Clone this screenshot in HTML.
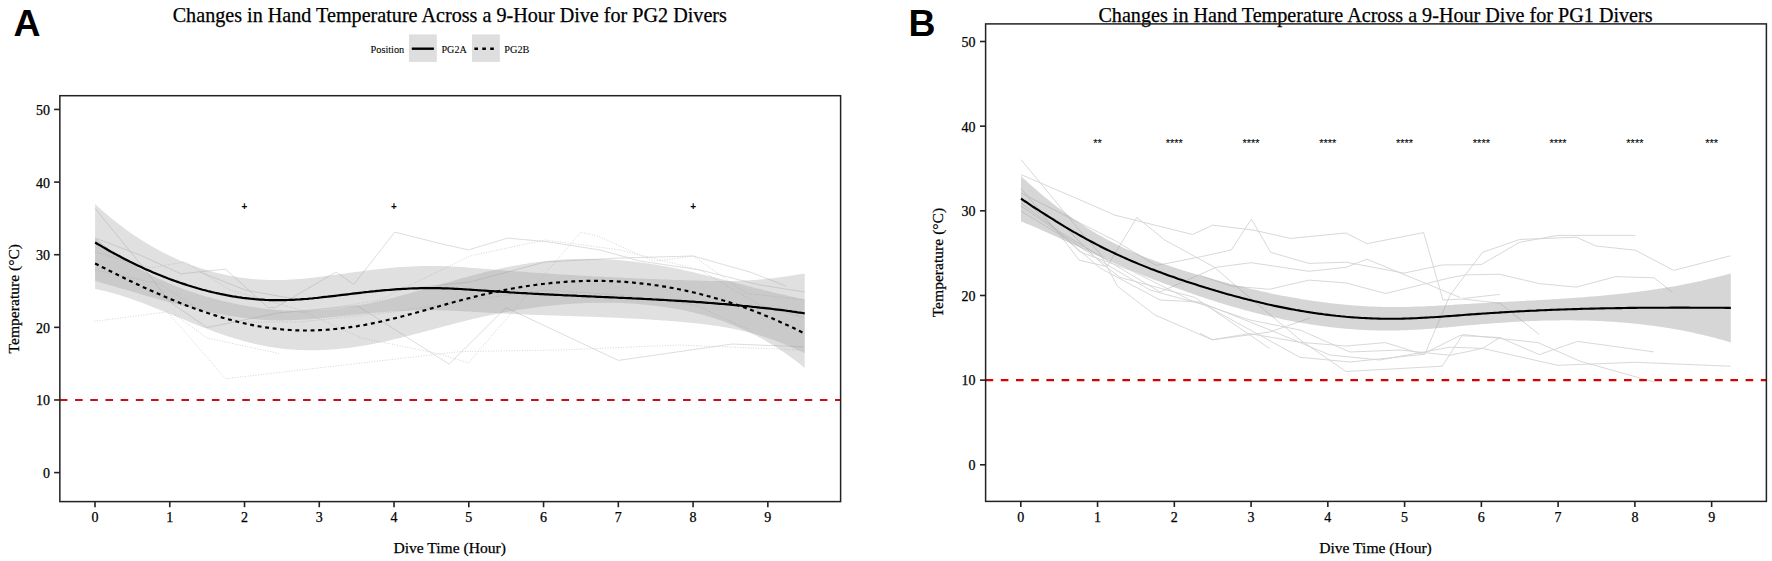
<!DOCTYPE html>
<html><head><meta charset="utf-8"><title>Hand temperature</title>
<style>html,body{margin:0;padding:0;background:#fff;}svg{display:block;}
text{font-family:'Liberation Serif','Times New Roman',serif;fill:#000;stroke:#000;stroke-width:0.25px;}</style></head><body>
<svg width="1772" height="561" viewBox="0 0 1772 561">
<rect width="1772" height="561" fill="#fff"/>
<text x="13.6" y="36" style="font-family:'Liberation Sans',Arial,sans-serif;font-weight:bold;font-size:37.4px;stroke-width:0">A</text>
<text x="908.4" y="36" style="font-family:'Liberation Sans',Arial,sans-serif;font-weight:bold;font-size:37.4px;stroke-width:0">B</text>
<text x="449.8" y="22.4" text-anchor="middle" font-size="20.15">Changes in Hand Temperature Across a 9-Hour Dive for PG2 Divers</text>
<text x="1375.5" y="22.3" text-anchor="middle" font-size="20.15">Changes in Hand Temperature Across a 9-Hour Dive for PG1 Divers</text>
<text x="370.5" y="52.6" font-size="10.3" style="stroke-width:0.08px">Position</text>
<rect x="409" y="34.4" width="27.8" height="27.5" fill="#dedede"/>
<line x1="411.8" y1="48.7" x2="433.9" y2="48.7" stroke="#000" stroke-width="2.4"/>
<text x="441.5" y="52.6" font-size="10.1" style="stroke-width:0.08px">PG2A</text>
<rect x="472" y="34.4" width="27.8" height="27.5" fill="#dedede"/>
<line x1="474.4" y1="48.7" x2="494.3" y2="48.7" stroke="#000" stroke-width="2.4" stroke-dasharray="3.6,4.3"/>
<text x="504.3" y="52.6" font-size="10.3" style="stroke-width:0.08px">PG2B</text>
<defs><clipPath id="ca"><rect x="59.9" y="95.7" width="780.8" height="405.9"/></clipPath><clipPath id="cb"><rect x="985.6" y="23.9" width="780.8" height="477.5"/></clipPath></defs>
<g clip-path="url(#ca)">
<g><path d="M95.1,208.5 L140.8,264.4 L170.0,302.0 L207.0,327.6 L278.0,313.0 L357.3,305.7 L449.2,364.1 L506.0,307.6 L618.3,360.4 L732.3,344.0 L803.6,346.9" fill="none" stroke="#d4d4d4" stroke-width="0.8"/><path d="M95.0,238.0 L140.0,255.0 L181.0,273.8 L225.5,269.1 L268.2,307.6 L275.4,307.6 L336.0,272.0 L353.8,284.5 L394.8,232.1 L440.0,243.5 L468.5,249.9 L507.7,238.1 L547.0,241.7 L600.0,250.0 L640.0,261.0 L700.0,270.0 L760.0,285.0 L805.0,292.0" fill="none" stroke="#d4d4d4" stroke-width="0.8"/><path d="M200.0,272.0 L245.0,290.0 L300.0,300.0 L394.0,290.0 L470.0,282.0 L545.0,262.0 L620.0,258.0 L693.0,256.0 L750.0,272.0 L786.0,286.0" fill="none" stroke="#d4d4d4" stroke-width="0.8"/><path d="M94.2,321.3 L167.3,311.9 L225.7,378.7 L460.0,351.6 L560.0,350.0 L680.0,345.0 L800.0,350.0" fill="none" stroke="#d0d0d0" stroke-width="0.9" stroke-dasharray="1,1.6"/><path d="M175.0,315.0 L207.0,338.0 L280.0,353.7" fill="none" stroke="#d0d0d0" stroke-width="0.9" stroke-dasharray="1,1.6"/><path d="M95.0,252.0 L151.0,267.8 L184.8,261.9 L230.0,290.0 L300.0,310.0 L361.5,338.0 L440.0,354.0 L468.5,362.9 L580.8,232.1 L598.6,236.3 L653.9,261.3 L693.1,256.0 L746.6,293.4 L805.0,300.0" fill="none" stroke="#d0d0d0" stroke-width="0.9" stroke-dasharray="1,1.6"/><path d="M95.0,270.0 L160.0,284.0 L200.0,310.0 L245.0,322.0 L300.0,322.0 L394.0,312.0 L470.0,300.0 L545.0,290.0 L620.0,295.0 L695.0,305.0 L750.0,330.0" fill="none" stroke="#d0d0d0" stroke-width="0.9" stroke-dasharray="1,1.6"/><path d="M300.0,313.0 L380.0,300.0 L470.0,256.0 L545.0,240.0 L620.0,250.0 L700.0,270.0 L760.0,305.0 L805.0,318.0" fill="none" stroke="#d0d0d0" stroke-width="0.9" stroke-dasharray="1,1.6"/></g>
<path d="M95.1,204.1 L97.6,206.4 L100.1,208.6 L102.6,210.8 L105.1,213.0 L107.6,215.1 L110.1,217.2 L112.6,219.3 L115.1,221.3 L117.6,223.2 L120.1,225.1 L122.6,227.0 L125.1,228.9 L127.6,230.7 L130.1,232.5 L132.6,234.2 L135.1,235.9 L137.6,237.6 L140.1,239.2 L142.6,240.8 L145.1,242.3 L147.6,243.8 L150.1,245.3 L152.6,246.8 L155.1,248.2 L157.6,249.6 L160.1,250.9 L162.6,252.2 L165.1,253.5 L167.6,254.7 L170.1,256.0 L172.6,257.1 L175.1,258.3 L177.6,259.4 L180.1,260.5 L182.6,261.5 L185.1,262.5 L187.6,263.5 L190.1,264.5 L192.6,265.4 L195.1,266.3 L197.6,267.2 L200.1,268.0 L202.6,268.8 L205.1,269.6 L207.6,270.3 L210.1,271.0 L212.6,271.7 L215.1,272.4 L217.6,273.0 L220.1,273.6 L222.6,274.2 L225.1,274.7 L227.6,275.3 L230.1,275.8 L232.6,276.2 L235.1,276.7 L237.6,277.1 L240.1,277.5 L242.6,277.8 L245.1,278.1 L247.6,278.4 L250.1,278.7 L252.6,279.0 L255.1,279.2 L257.6,279.4 L260.1,279.6 L262.6,279.7 L265.1,279.8 L267.6,279.9 L270.1,280.0 L272.6,280.0 L275.1,280.1 L277.6,280.0 L280.1,280.0 L282.6,280.0 L285.1,279.9 L287.6,279.8 L290.1,279.6 L292.6,279.5 L295.1,279.3 L297.6,279.1 L300.1,278.9 L302.6,278.7 L305.1,278.5 L307.6,278.2 L310.1,277.9 L312.6,277.7 L315.1,277.4 L317.6,277.1 L320.1,276.8 L322.6,276.5 L325.1,276.1 L327.6,275.8 L330.1,275.5 L332.6,275.1 L335.1,274.8 L337.6,274.4 L340.1,274.1 L342.6,273.8 L345.1,273.4 L347.6,273.1 L350.1,272.7 L352.6,272.4 L355.1,272.1 L357.6,271.7 L360.1,271.4 L362.6,271.1 L365.1,270.8 L367.6,270.5 L370.1,270.1 L372.6,269.8 L375.1,269.6 L377.6,269.3 L380.1,269.0 L382.6,268.7 L385.1,268.5 L387.6,268.2 L390.1,268.0 L392.6,267.8 L395.1,267.5 L397.6,267.3 L400.1,267.1 L402.6,267.0 L405.1,266.8 L407.6,266.7 L410.1,266.5 L412.6,266.4 L415.1,266.3 L417.6,266.2 L420.1,266.1 L422.6,266.1 L425.1,266.0 L427.6,266.0 L430.1,266.0 L432.6,266.0 L435.1,266.0 L437.6,266.0 L440.1,266.1 L442.6,266.1 L445.1,266.2 L447.6,266.3 L450.1,266.4 L452.6,266.5 L455.1,266.7 L457.6,266.8 L460.1,267.0 L462.6,267.1 L465.1,267.3 L467.6,267.5 L470.1,267.7 L472.6,267.9 L475.1,268.0 L477.6,268.3 L480.1,268.5 L482.6,268.7 L485.1,268.9 L487.6,269.1 L490.1,269.3 L492.6,269.5 L495.1,269.7 L497.6,269.9 L500.1,270.1 L502.6,270.3 L505.1,270.5 L507.6,270.7 L510.1,270.9 L512.6,271.1 L515.1,271.3 L517.6,271.5 L520.1,271.6 L522.6,271.8 L525.1,272.0 L527.6,272.2 L530.1,272.4 L532.6,272.5 L535.1,272.7 L537.6,272.9 L540.1,273.1 L542.6,273.2 L545.1,273.4 L547.6,273.6 L550.1,273.7 L552.6,273.9 L555.1,274.1 L557.6,274.2 L560.1,274.4 L562.6,274.5 L565.1,274.7 L567.6,274.8 L570.1,275.0 L572.6,275.1 L575.1,275.3 L577.6,275.4 L580.1,275.6 L582.6,275.7 L585.1,275.8 L587.6,276.0 L590.1,276.1 L592.6,276.3 L595.1,276.4 L597.6,276.5 L600.1,276.6 L602.6,276.8 L605.1,276.9 L607.6,277.0 L610.1,277.1 L612.6,277.3 L615.1,277.4 L617.6,277.5 L620.1,277.6 L622.6,277.7 L625.1,277.9 L627.6,278.0 L630.1,278.1 L632.6,278.2 L635.1,278.3 L637.6,278.4 L640.1,278.5 L642.6,278.6 L645.1,278.7 L647.6,278.8 L650.1,278.9 L652.6,279.0 L655.1,279.1 L657.6,279.2 L660.1,279.3 L662.6,279.4 L665.1,279.5 L667.6,279.6 L670.1,279.7 L672.6,279.8 L675.1,279.9 L677.6,280.0 L680.1,280.0 L682.6,280.1 L685.1,280.2 L687.6,280.3 L690.1,280.4 L692.6,280.5 L695.1,280.5 L697.6,280.6 L700.1,280.7 L702.6,280.8 L705.1,280.8 L707.6,280.9 L710.1,280.9 L712.6,281.0 L715.1,281.0 L717.6,281.0 L720.1,281.0 L722.6,281.0 L725.1,281.0 L727.6,281.0 L730.1,281.0 L732.6,280.9 L735.1,280.9 L737.6,280.8 L740.1,280.8 L742.6,280.7 L745.1,280.6 L747.6,280.4 L750.1,280.3 L752.6,280.1 L755.1,280.0 L757.6,279.8 L760.1,279.5 L762.6,279.3 L765.1,279.1 L767.6,278.8 L770.1,278.5 L772.6,278.2 L775.1,277.9 L777.6,277.6 L780.1,277.3 L782.6,276.9 L785.1,276.6 L787.6,276.2 L790.1,275.8 L792.6,275.4 L795.1,275.0 L797.6,274.6 L800.1,274.2 L802.6,273.8 L804.7,273.4 L804.7,353.2 L802.6,352.2 L800.1,351.0 L797.6,349.9 L795.1,348.8 L792.6,347.7 L790.1,346.6 L787.6,345.6 L785.1,344.5 L782.6,343.5 L780.1,342.5 L777.6,341.6 L775.1,340.6 L772.6,339.7 L770.1,338.8 L767.6,338.0 L765.1,337.2 L762.6,336.3 L760.1,335.6 L757.6,334.8 L755.1,334.1 L752.6,333.4 L750.1,332.7 L747.6,332.1 L745.1,331.4 L742.6,330.9 L740.1,330.3 L737.6,329.7 L735.1,329.2 L732.6,328.7 L730.1,328.2 L727.6,327.8 L725.1,327.3 L722.6,326.9 L720.1,326.5 L717.6,326.1 L715.1,325.7 L712.6,325.4 L710.1,325.0 L707.6,324.7 L705.1,324.4 L702.6,324.1 L700.1,323.8 L697.6,323.5 L695.1,323.2 L692.6,323.0 L690.1,322.7 L687.6,322.5 L685.1,322.2 L682.6,322.0 L680.1,321.8 L677.6,321.6 L675.1,321.4 L672.6,321.1 L670.1,320.9 L667.6,320.7 L665.1,320.6 L662.6,320.4 L660.1,320.2 L657.6,320.0 L655.1,319.9 L652.6,319.7 L650.1,319.5 L647.6,319.4 L645.1,319.2 L642.6,319.1 L640.1,318.9 L637.6,318.8 L635.1,318.7 L632.6,318.5 L630.1,318.4 L627.6,318.3 L625.1,318.2 L622.6,318.0 L620.1,317.9 L617.6,317.8 L615.1,317.7 L612.6,317.6 L610.1,317.5 L607.6,317.4 L605.1,317.3 L602.6,317.2 L600.1,317.1 L597.6,317.0 L595.1,316.9 L592.6,316.8 L590.1,316.7 L587.6,316.6 L585.1,316.6 L582.6,316.5 L580.1,316.4 L577.6,316.3 L575.1,316.2 L572.6,316.1 L570.1,316.1 L567.6,316.0 L565.1,315.9 L562.6,315.8 L560.1,315.7 L557.6,315.6 L555.1,315.6 L552.6,315.5 L550.1,315.4 L547.6,315.3 L545.1,315.2 L542.6,315.1 L540.1,315.0 L537.6,315.0 L535.1,314.9 L532.6,314.8 L530.1,314.7 L527.6,314.6 L525.1,314.5 L522.6,314.4 L520.1,314.3 L517.6,314.2 L515.1,314.1 L512.6,313.9 L510.1,313.8 L507.6,313.7 L505.1,313.6 L502.6,313.5 L500.1,313.3 L497.6,313.2 L495.1,313.1 L492.6,313.0 L490.1,312.8 L487.6,312.7 L485.1,312.5 L482.6,312.4 L480.1,312.2 L477.6,312.1 L475.1,311.9 L472.6,311.8 L470.1,311.6 L467.6,311.5 L465.1,311.4 L462.6,311.2 L460.1,311.1 L457.6,311.0 L455.1,310.9 L452.6,310.8 L450.1,310.7 L447.6,310.6 L445.1,310.5 L442.6,310.4 L440.1,310.4 L437.6,310.3 L435.1,310.3 L432.6,310.3 L430.1,310.3 L427.6,310.3 L425.1,310.3 L422.6,310.3 L420.1,310.3 L417.6,310.4 L415.1,310.4 L412.6,310.5 L410.1,310.6 L407.6,310.7 L405.1,310.8 L402.6,310.9 L400.1,311.0 L397.6,311.1 L395.1,311.3 L392.6,311.5 L390.1,311.6 L387.6,311.8 L385.1,312.0 L382.6,312.2 L380.1,312.4 L377.6,312.6 L375.1,312.8 L372.6,313.0 L370.1,313.2 L367.6,313.5 L365.1,313.7 L362.6,313.9 L360.1,314.2 L357.6,314.4 L355.1,314.7 L352.6,314.9 L350.1,315.2 L347.6,315.5 L345.1,315.7 L342.6,316.0 L340.1,316.2 L337.6,316.5 L335.1,316.8 L332.6,317.0 L330.1,317.3 L327.6,317.5 L325.1,317.8 L322.6,318.0 L320.1,318.2 L317.6,318.5 L315.1,318.7 L312.6,318.9 L310.1,319.1 L307.6,319.3 L305.1,319.5 L302.6,319.6 L300.1,319.8 L297.6,319.9 L295.1,320.0 L292.6,320.1 L290.1,320.2 L287.6,320.3 L285.1,320.3 L282.6,320.4 L280.1,320.4 L277.6,320.4 L275.1,320.3 L272.6,320.2 L270.1,320.2 L267.6,320.0 L265.1,319.9 L262.6,319.8 L260.1,319.6 L257.6,319.4 L255.1,319.2 L252.6,318.9 L250.1,318.7 L247.6,318.4 L245.1,318.1 L242.6,317.8 L240.1,317.4 L237.6,317.1 L235.1,316.7 L232.6,316.3 L230.1,315.9 L227.6,315.5 L225.1,315.0 L222.6,314.6 L220.1,314.1 L217.6,313.7 L215.1,313.2 L212.6,312.7 L210.1,312.1 L207.6,311.6 L205.1,311.1 L202.6,310.5 L200.1,309.9 L197.6,309.4 L195.1,308.8 L192.6,308.2 L190.1,307.6 L187.6,307.0 L185.1,306.4 L182.6,305.7 L180.1,305.1 L177.6,304.4 L175.1,303.8 L172.6,303.1 L170.1,302.4 L167.6,301.8 L165.1,301.1 L162.6,300.4 L160.1,299.7 L157.6,299.0 L155.1,298.3 L152.6,297.6 L150.1,296.9 L147.6,296.2 L145.1,295.4 L142.6,294.7 L140.1,294.0 L137.6,293.3 L135.1,292.5 L132.6,291.8 L130.1,291.1 L127.6,290.3 L125.1,289.6 L122.6,288.9 L120.1,288.1 L117.6,287.4 L115.1,286.6 L112.6,285.9 L110.1,285.2 L107.6,284.4 L105.1,283.7 L102.6,283.0 L100.1,282.2 L97.6,281.5 L95.1,280.8 Z" fill="#999" fill-opacity="0.3"/>
<path d="M95.1,238.0 L97.6,240.1 L100.1,242.1 L102.6,244.0 L105.1,245.9 L107.6,247.8 L110.1,249.7 L112.6,251.5 L115.1,253.3 L117.6,255.0 L120.1,256.7 L122.6,258.4 L125.1,260.0 L127.6,261.6 L130.1,263.2 L132.6,264.7 L135.1,266.2 L137.6,267.6 L140.1,269.1 L142.6,270.4 L145.1,271.8 L147.6,273.1 L150.1,274.4 L152.6,275.7 L155.1,277.0 L157.6,278.2 L160.1,279.3 L162.6,280.5 L165.1,281.6 L167.6,282.7 L170.1,283.8 L172.6,284.8 L175.1,285.9 L177.6,286.8 L180.1,287.8 L182.6,288.8 L185.1,289.7 L187.6,290.6 L190.1,291.4 L192.6,292.3 L195.1,293.1 L197.6,293.9 L200.1,294.7 L202.6,295.5 L205.1,296.2 L207.6,296.9 L210.1,297.6 L212.6,298.3 L215.1,299.0 L217.6,299.6 L220.1,300.3 L222.6,300.9 L225.1,301.5 L227.6,302.1 L230.1,302.6 L232.6,303.2 L235.1,303.7 L237.6,304.2 L240.1,304.7 L242.6,305.2 L245.1,305.7 L247.6,306.1 L250.1,306.5 L252.6,306.9 L255.1,307.3 L257.6,307.7 L260.1,308.1 L262.6,308.4 L265.1,308.7 L267.6,309.0 L270.1,309.3 L272.6,309.5 L275.1,309.7 L277.6,309.9 L280.1,310.1 L282.6,310.3 L285.1,310.4 L287.6,310.6 L290.1,310.6 L292.6,310.7 L295.1,310.8 L297.6,310.8 L300.1,310.8 L302.6,310.8 L305.1,310.8 L307.6,310.7 L310.1,310.6 L312.6,310.5 L315.1,310.4 L317.6,310.3 L320.1,310.1 L322.6,309.9 L325.1,309.8 L327.6,309.5 L330.1,309.3 L332.6,309.1 L335.1,308.8 L337.6,308.5 L340.1,308.2 L342.6,307.9 L345.1,307.5 L347.6,307.2 L350.1,306.8 L352.6,306.4 L355.1,306.0 L357.6,305.5 L360.1,305.1 L362.6,304.6 L365.1,304.2 L367.6,303.7 L370.1,303.2 L372.6,302.6 L375.1,302.1 L377.6,301.5 L380.1,301.0 L382.6,300.4 L385.1,299.8 L387.6,299.2 L390.1,298.6 L392.6,297.9 L395.1,297.3 L397.6,296.6 L400.1,296.0 L402.6,295.3 L405.1,294.6 L407.6,293.9 L410.1,293.3 L412.6,292.6 L415.1,291.8 L417.6,291.1 L420.1,290.4 L422.6,289.7 L425.1,289.0 L427.6,288.2 L430.1,287.5 L432.6,286.8 L435.1,286.1 L437.6,285.3 L440.1,284.6 L442.6,283.8 L445.1,283.1 L447.6,282.4 L450.1,281.7 L452.6,280.9 L455.1,280.2 L457.6,279.5 L460.1,278.8 L462.6,278.1 L465.1,277.4 L467.6,276.7 L470.1,276.0 L472.6,275.3 L475.1,274.7 L477.6,274.0 L480.1,273.4 L482.6,272.7 L485.1,272.1 L487.6,271.5 L490.1,270.9 L492.6,270.3 L495.1,269.7 L497.6,269.2 L500.1,268.6 L502.6,268.1 L505.1,267.6 L507.6,267.1 L510.1,266.6 L512.6,266.1 L515.1,265.6 L517.6,265.2 L520.1,264.7 L522.6,264.3 L525.1,263.9 L527.6,263.5 L530.1,263.1 L532.6,262.8 L535.1,262.4 L537.6,262.1 L540.1,261.8 L542.6,261.4 L545.1,261.2 L547.6,260.9 L550.1,260.6 L552.6,260.4 L555.1,260.2 L557.6,260.0 L560.1,259.8 L562.6,259.6 L565.1,259.5 L567.6,259.3 L570.1,259.2 L572.6,259.1 L575.1,259.0 L577.6,259.0 L580.1,258.9 L582.6,258.9 L585.1,258.9 L587.6,258.8 L590.1,258.9 L592.6,258.9 L595.1,258.9 L597.6,259.0 L600.1,259.1 L602.6,259.2 L605.1,259.3 L607.6,259.4 L610.1,259.5 L612.6,259.7 L615.1,259.8 L617.6,260.0 L620.1,260.2 L622.6,260.4 L625.1,260.7 L627.6,260.9 L630.1,261.2 L632.6,261.5 L635.1,261.7 L637.6,262.0 L640.1,262.4 L642.6,262.7 L645.1,263.0 L647.6,263.4 L650.1,263.8 L652.6,264.2 L655.1,264.6 L657.6,265.0 L660.1,265.4 L662.6,265.9 L665.1,266.3 L667.6,266.8 L670.1,267.3 L672.6,267.8 L675.1,268.3 L677.6,268.8 L680.1,269.3 L682.6,269.8 L685.1,270.4 L687.6,271.0 L690.1,271.5 L692.6,272.1 L695.1,272.7 L697.6,273.3 L700.1,273.9 L702.6,274.5 L705.1,275.1 L707.6,275.7 L710.1,276.3 L712.6,276.9 L715.1,277.6 L717.6,278.2 L720.1,278.8 L722.6,279.5 L725.1,280.1 L727.6,280.8 L730.1,281.4 L732.6,282.1 L735.1,282.7 L737.6,283.3 L740.1,284.0 L742.6,284.6 L745.1,285.3 L747.6,285.9 L750.1,286.6 L752.6,287.2 L755.1,287.9 L757.6,288.5 L760.1,289.1 L762.6,289.8 L765.1,290.4 L767.6,291.0 L770.1,291.6 L772.6,292.2 L775.1,292.8 L777.6,293.4 L780.1,294.0 L782.6,294.6 L785.1,295.1 L787.6,295.7 L790.1,296.3 L792.6,296.8 L795.1,297.3 L797.6,297.9 L800.1,298.4 L802.6,298.9 L804.7,299.3 L804.7,367.9 L802.6,366.2 L800.1,364.2 L797.6,362.2 L795.1,360.3 L792.6,358.5 L790.1,356.7 L787.6,354.9 L785.1,353.1 L782.6,351.4 L780.1,349.7 L777.6,348.1 L775.1,346.5 L772.6,345.0 L770.1,343.5 L767.6,342.0 L765.1,340.5 L762.6,339.1 L760.1,337.8 L757.6,336.4 L755.1,335.1 L752.6,333.9 L750.1,332.6 L747.6,331.4 L745.1,330.2 L742.6,329.1 L740.1,328.0 L737.6,326.9 L735.1,325.9 L732.6,324.9 L730.1,323.9 L727.6,322.9 L725.1,322.0 L722.6,321.1 L720.1,320.2 L717.6,319.4 L715.1,318.5 L712.6,317.8 L710.1,317.0 L707.6,316.2 L705.1,315.5 L702.6,314.8 L700.1,314.2 L697.6,313.5 L695.1,312.9 L692.6,312.3 L690.1,311.7 L687.6,311.2 L685.1,310.6 L682.6,310.1 L680.1,309.6 L677.6,309.2 L675.1,308.7 L672.6,308.3 L670.1,307.9 L667.6,307.5 L665.1,307.1 L662.6,306.7 L660.1,306.4 L657.6,306.1 L655.1,305.7 L652.6,305.4 L650.1,305.2 L647.6,304.9 L645.1,304.6 L642.6,304.4 L640.1,304.2 L637.6,304.0 L635.1,303.8 L632.6,303.6 L630.1,303.5 L627.6,303.3 L625.1,303.2 L622.6,303.1 L620.1,303.0 L617.6,302.9 L615.1,302.8 L612.6,302.8 L610.1,302.7 L607.6,302.7 L605.1,302.7 L602.6,302.7 L600.1,302.7 L597.6,302.7 L595.1,302.8 L592.6,302.8 L590.1,302.9 L587.6,303.0 L585.1,303.1 L582.6,303.2 L580.1,303.3 L577.6,303.4 L575.1,303.6 L572.6,303.7 L570.1,303.9 L567.6,304.1 L565.1,304.3 L562.6,304.5 L560.1,304.7 L557.6,304.9 L555.1,305.2 L552.6,305.4 L550.1,305.7 L547.6,306.0 L545.1,306.3 L542.6,306.6 L540.1,306.9 L537.6,307.2 L535.1,307.5 L532.6,307.9 L530.1,308.2 L527.6,308.6 L525.1,308.9 L522.6,309.3 L520.1,309.7 L517.6,310.1 L515.1,310.5 L512.6,311.0 L510.1,311.4 L507.6,311.8 L505.1,312.3 L502.6,312.8 L500.1,313.2 L497.6,313.7 L495.1,314.2 L492.6,314.7 L490.1,315.2 L487.6,315.8 L485.1,316.3 L482.6,316.8 L480.1,317.4 L477.6,318.0 L475.1,318.5 L472.6,319.1 L470.1,319.7 L467.6,320.3 L465.1,320.9 L462.6,321.6 L460.1,322.2 L457.6,322.8 L455.1,323.5 L452.6,324.1 L450.1,324.8 L447.6,325.4 L445.1,326.1 L442.6,326.7 L440.1,327.4 L437.6,328.1 L435.1,328.7 L432.6,329.4 L430.1,330.1 L427.6,330.8 L425.1,331.4 L422.6,332.1 L420.1,332.8 L417.6,333.4 L415.1,334.1 L412.6,334.7 L410.1,335.4 L407.6,336.0 L405.1,336.6 L402.6,337.3 L400.1,337.9 L397.6,338.5 L395.1,339.1 L392.6,339.7 L390.1,340.3 L387.6,340.9 L385.1,341.4 L382.6,342.0 L380.1,342.5 L377.6,343.0 L375.1,343.5 L372.6,344.0 L370.1,344.5 L367.6,344.9 L365.1,345.4 L362.6,345.8 L360.1,346.2 L357.6,346.6 L355.1,347.0 L352.6,347.3 L350.1,347.7 L347.6,348.0 L345.1,348.3 L342.6,348.5 L340.1,348.8 L337.6,349.0 L335.1,349.3 L332.6,349.5 L330.1,349.6 L327.6,349.8 L325.1,349.9 L322.6,350.0 L320.1,350.1 L317.6,350.2 L315.1,350.2 L312.6,350.3 L310.1,350.3 L307.6,350.2 L305.1,350.2 L302.6,350.1 L300.1,350.0 L297.6,349.9 L295.1,349.8 L292.6,349.6 L290.1,349.4 L287.6,349.2 L285.1,348.9 L282.6,348.7 L280.1,348.4 L277.6,348.0 L275.1,347.7 L272.6,347.3 L270.1,346.9 L267.6,346.5 L265.1,346.0 L262.6,345.5 L260.1,345.0 L257.6,344.5 L255.1,343.9 L252.6,343.3 L250.1,342.7 L247.6,342.1 L245.1,341.4 L242.6,340.8 L240.1,340.1 L237.6,339.3 L235.1,338.6 L232.6,337.8 L230.1,337.0 L227.6,336.2 L225.1,335.4 L222.6,334.6 L220.1,333.7 L217.6,332.8 L215.1,331.9 L212.6,331.0 L210.1,330.0 L207.6,329.1 L205.1,328.1 L202.6,327.2 L200.1,326.2 L197.6,325.2 L195.1,324.2 L192.6,323.2 L190.1,322.2 L187.6,321.2 L185.1,320.1 L182.6,319.1 L180.1,318.1 L177.6,317.1 L175.1,316.0 L172.6,315.0 L170.1,314.0 L167.6,312.9 L165.1,311.9 L162.6,310.9 L160.1,309.9 L157.6,308.9 L155.1,307.9 L152.6,306.9 L150.1,305.9 L147.6,305.0 L145.1,304.0 L142.6,303.1 L140.1,302.1 L137.6,301.2 L135.1,300.3 L132.6,299.4 L130.1,298.6 L127.6,297.7 L125.1,296.9 L122.6,296.1 L120.1,295.3 L117.6,294.6 L115.1,293.8 L112.6,293.1 L110.1,292.4 L107.6,291.8 L105.1,291.1 L102.6,290.5 L100.1,290.0 L97.6,289.4 L95.1,288.9 Z" fill="#999" fill-opacity="0.3"/>
<path d="M95.1,242.5 L97.6,244.0 L100.1,245.4 L102.6,246.9 L105.1,248.3 L107.6,249.8 L110.1,251.2 L112.6,252.6 L115.1,253.9 L117.6,255.3 L120.1,256.6 L122.6,257.9 L125.1,259.2 L127.6,260.5 L130.1,261.8 L132.6,263.0 L135.1,264.2 L137.6,265.4 L140.1,266.6 L142.6,267.7 L145.1,268.9 L147.6,270.0 L150.1,271.1 L152.6,272.2 L155.1,273.2 L157.6,274.3 L160.1,275.3 L162.6,276.3 L165.1,277.3 L167.6,278.3 L170.1,279.2 L172.6,280.1 L175.1,281.0 L177.6,281.9 L180.1,282.8 L182.6,283.6 L185.1,284.4 L187.6,285.3 L190.1,286.0 L192.6,286.8 L195.1,287.5 L197.6,288.3 L200.1,289.0 L202.6,289.7 L205.1,290.3 L207.6,291.0 L210.1,291.6 L212.6,292.2 L215.1,292.8 L217.6,293.3 L220.1,293.9 L222.6,294.4 L225.1,294.9 L227.6,295.4 L230.1,295.8 L232.6,296.3 L235.1,296.7 L237.6,297.1 L240.1,297.4 L242.6,297.8 L245.1,298.1 L247.6,298.4 L250.1,298.7 L252.6,298.9 L255.1,299.2 L257.6,299.4 L260.1,299.6 L262.6,299.7 L265.1,299.9 L267.6,300.0 L270.1,300.1 L272.6,300.1 L275.1,300.2 L277.6,300.2 L280.1,300.2 L282.6,300.2 L285.1,300.1 L287.6,300.0 L290.1,299.9 L292.6,299.8 L295.1,299.7 L297.6,299.5 L300.1,299.4 L302.6,299.2 L305.1,299.0 L307.6,298.8 L310.1,298.5 L312.6,298.3 L315.1,298.0 L317.6,297.8 L320.1,297.5 L322.6,297.2 L325.1,296.9 L327.6,296.7 L330.1,296.4 L332.6,296.1 L335.1,295.8 L337.6,295.5 L340.1,295.2 L342.6,294.9 L345.1,294.6 L347.6,294.3 L350.1,294.0 L352.6,293.7 L355.1,293.4 L357.6,293.1 L360.1,292.8 L362.6,292.5 L365.1,292.2 L367.6,292.0 L370.1,291.7 L372.6,291.4 L375.1,291.2 L377.6,290.9 L380.1,290.7 L382.6,290.4 L385.1,290.2 L387.6,290.0 L390.1,289.8 L392.6,289.6 L395.1,289.4 L397.6,289.2 L400.1,289.1 L402.6,288.9 L405.1,288.8 L407.6,288.7 L410.1,288.5 L412.6,288.4 L415.1,288.4 L417.6,288.3 L420.1,288.2 L422.6,288.2 L425.1,288.2 L427.6,288.1 L430.1,288.1 L432.6,288.1 L435.1,288.2 L437.6,288.2 L440.1,288.2 L442.6,288.3 L445.1,288.4 L447.6,288.4 L450.1,288.5 L452.6,288.6 L455.1,288.8 L457.6,288.9 L460.1,289.0 L462.6,289.2 L465.1,289.3 L467.6,289.5 L470.1,289.6 L472.6,289.8 L475.1,290.0 L477.6,290.2 L480.1,290.3 L482.6,290.5 L485.1,290.7 L487.6,290.9 L490.1,291.1 L492.6,291.2 L495.1,291.4 L497.6,291.6 L500.1,291.7 L502.6,291.9 L505.1,292.0 L507.6,292.2 L510.1,292.4 L512.6,292.5 L515.1,292.7 L517.6,292.8 L520.1,293.0 L522.6,293.1 L525.1,293.2 L527.6,293.4 L530.1,293.5 L532.6,293.7 L535.1,293.8 L537.6,293.9 L540.1,294.1 L542.6,294.2 L545.1,294.3 L547.6,294.4 L550.1,294.6 L552.6,294.7 L555.1,294.8 L557.6,294.9 L560.1,295.0 L562.6,295.2 L565.1,295.3 L567.6,295.4 L570.1,295.5 L572.6,295.6 L575.1,295.7 L577.6,295.9 L580.1,296.0 L582.6,296.1 L585.1,296.2 L587.6,296.3 L590.1,296.4 L592.6,296.5 L595.1,296.6 L597.6,296.8 L600.1,296.9 L602.6,297.0 L605.1,297.1 L607.6,297.2 L610.1,297.3 L612.6,297.4 L615.1,297.5 L617.6,297.7 L620.1,297.8 L622.6,297.9 L625.1,298.0 L627.6,298.1 L630.1,298.2 L632.6,298.4 L635.1,298.5 L637.6,298.6 L640.1,298.7 L642.6,298.8 L645.1,299.0 L647.6,299.1 L650.1,299.2 L652.6,299.4 L655.1,299.5 L657.6,299.6 L660.1,299.8 L662.6,299.9 L665.1,300.0 L667.6,300.2 L670.1,300.3 L672.6,300.5 L675.1,300.6 L677.6,300.8 L680.1,300.9 L682.6,301.1 L685.1,301.2 L687.6,301.4 L690.1,301.6 L692.6,301.7 L695.1,301.9 L697.6,302.1 L700.1,302.2 L702.6,302.4 L705.1,302.6 L707.6,302.8 L710.1,303.0 L712.6,303.2 L715.1,303.4 L717.6,303.6 L720.1,303.8 L722.6,304.0 L725.1,304.2 L727.6,304.4 L730.1,304.6 L732.6,304.8 L735.1,305.1 L737.6,305.3 L740.1,305.5 L742.6,305.8 L745.1,306.0 L747.6,306.2 L750.1,306.5 L752.6,306.8 L755.1,307.0 L757.6,307.3 L760.1,307.6 L762.6,307.8 L765.1,308.1 L767.6,308.4 L770.1,308.7 L772.6,309.0 L775.1,309.3 L777.6,309.6 L780.1,309.9 L782.6,310.2 L785.1,310.5 L787.6,310.9 L790.1,311.2 L792.6,311.6 L795.1,311.9 L797.6,312.3 L800.1,312.6 L802.6,313.0 L804.7,313.3" fill="none" stroke="#000" stroke-width="2.2"/>
<path d="M95.1,263.5 L97.6,264.7 L100.1,266.0 L102.6,267.3 L105.1,268.5 L107.6,269.8 L110.1,271.1 L112.6,272.3 L115.1,273.5 L117.6,274.8 L120.1,276.0 L122.6,277.2 L125.1,278.5 L127.6,279.7 L130.1,280.9 L132.6,282.1 L135.1,283.2 L137.6,284.4 L140.1,285.6 L142.6,286.8 L145.1,287.9 L147.6,289.1 L150.1,290.2 L152.6,291.3 L155.1,292.4 L157.6,293.5 L160.1,294.6 L162.6,295.7 L165.1,296.8 L167.6,297.8 L170.1,298.9 L172.6,299.9 L175.1,300.9 L177.6,301.9 L180.1,302.9 L182.6,303.9 L185.1,304.9 L187.6,305.9 L190.1,306.8 L192.6,307.7 L195.1,308.7 L197.6,309.6 L200.1,310.4 L202.6,311.3 L205.1,312.2 L207.6,313.0 L210.1,313.8 L212.6,314.7 L215.1,315.4 L217.6,316.2 L220.1,317.0 L222.6,317.7 L225.1,318.4 L227.6,319.1 L230.1,319.8 L232.6,320.5 L235.1,321.1 L237.6,321.8 L240.1,322.4 L242.6,323.0 L245.1,323.5 L247.6,324.1 L250.1,324.6 L252.6,325.1 L255.1,325.6 L257.6,326.1 L260.1,326.5 L262.6,326.9 L265.1,327.3 L267.6,327.7 L270.1,328.1 L272.6,328.4 L275.1,328.7 L277.6,329.0 L280.1,329.2 L282.6,329.5 L285.1,329.7 L287.6,329.9 L290.1,330.0 L292.6,330.2 L295.1,330.3 L297.6,330.4 L300.1,330.4 L302.6,330.5 L305.1,330.5 L307.6,330.5 L310.1,330.5 L312.6,330.4 L315.1,330.3 L317.6,330.2 L320.1,330.1 L322.6,330.0 L325.1,329.8 L327.6,329.7 L330.1,329.5 L332.6,329.3 L335.1,329.0 L337.6,328.8 L340.1,328.5 L342.6,328.2 L345.1,327.9 L347.6,327.6 L350.1,327.2 L352.6,326.8 L355.1,326.5 L357.6,326.1 L360.1,325.6 L362.6,325.2 L365.1,324.8 L367.6,324.3 L370.1,323.8 L372.6,323.3 L375.1,322.8 L377.6,322.3 L380.1,321.7 L382.6,321.2 L385.1,320.6 L387.6,320.0 L390.1,319.4 L392.6,318.8 L395.1,318.2 L397.6,317.6 L400.1,316.9 L402.6,316.3 L405.1,315.6 L407.6,315.0 L410.1,314.3 L412.6,313.6 L415.1,313.0 L417.6,312.3 L420.1,311.6 L422.6,310.9 L425.1,310.2 L427.6,309.5 L430.1,308.8 L432.6,308.1 L435.1,307.4 L437.6,306.7 L440.1,306.0 L442.6,305.3 L445.1,304.6 L447.6,303.9 L450.1,303.2 L452.6,302.5 L455.1,301.8 L457.6,301.2 L460.1,300.5 L462.6,299.8 L465.1,299.2 L467.6,298.5 L470.1,297.9 L472.6,297.2 L475.1,296.6 L477.6,296.0 L480.1,295.4 L482.6,294.8 L485.1,294.2 L487.6,293.6 L490.1,293.1 L492.6,292.5 L495.1,292.0 L497.6,291.4 L500.1,290.9 L502.6,290.4 L505.1,289.9 L507.6,289.4 L510.1,289.0 L512.6,288.5 L515.1,288.1 L517.6,287.6 L520.1,287.2 L522.6,286.8 L525.1,286.4 L527.6,286.0 L530.1,285.7 L532.6,285.3 L535.1,285.0 L537.6,284.6 L540.1,284.3 L542.6,284.0 L545.1,283.7 L547.6,283.4 L550.1,283.2 L552.6,282.9 L555.1,282.7 L557.6,282.5 L560.1,282.3 L562.6,282.1 L565.1,281.9 L567.6,281.7 L570.1,281.6 L572.6,281.4 L575.1,281.3 L577.6,281.2 L580.1,281.1 L582.6,281.0 L585.1,281.0 L587.6,280.9 L590.1,280.9 L592.6,280.9 L595.1,280.8 L597.6,280.9 L600.1,280.9 L602.6,280.9 L605.1,281.0 L607.6,281.0 L610.1,281.1 L612.6,281.2 L615.1,281.3 L617.6,281.5 L620.1,281.6 L622.6,281.8 L625.1,281.9 L627.6,282.1 L630.1,282.3 L632.6,282.5 L635.1,282.8 L637.6,283.0 L640.1,283.3 L642.6,283.6 L645.1,283.8 L647.6,284.1 L650.1,284.5 L652.6,284.8 L655.1,285.2 L657.6,285.5 L660.1,285.9 L662.6,286.3 L665.1,286.7 L667.6,287.1 L670.1,287.6 L672.6,288.0 L675.1,288.5 L677.6,289.0 L680.1,289.5 L682.6,290.0 L685.1,290.5 L687.6,291.1 L690.1,291.6 L692.6,292.2 L695.1,292.8 L697.6,293.4 L700.1,294.0 L702.6,294.7 L705.1,295.3 L707.6,296.0 L710.1,296.6 L712.6,297.3 L715.1,298.1 L717.6,298.8 L720.1,299.5 L722.6,300.3 L725.1,301.0 L727.6,301.8 L730.1,302.6 L732.6,303.5 L735.1,304.3 L737.6,305.1 L740.1,306.0 L742.6,306.9 L745.1,307.8 L747.6,308.7 L750.1,309.6 L752.6,310.5 L755.1,311.5 L757.6,312.5 L760.1,313.4 L762.6,314.4 L765.1,315.5 L767.6,316.5 L770.1,317.5 L772.6,318.6 L775.1,319.7 L777.6,320.8 L780.1,321.9 L782.6,323.0 L785.1,324.1 L787.6,325.3 L790.1,326.5 L792.6,327.6 L795.1,328.8 L797.6,330.1 L800.1,331.3 L802.6,332.5 L804.7,333.6" fill="none" stroke="#000" stroke-width="2.2" stroke-dasharray="3.9,3.7"/>
<line x1="59.85" y1="400.0" x2="840.6" y2="400.0" stroke="#c81018" stroke-width="2.2" stroke-dasharray="7.6,7.6"/>
</g>
<text x="244.5" y="210" text-anchor="middle" style="font-family:'Liberation Sans',Arial,sans-serif;font-weight:bold;font-size:10px;stroke-width:0">+</text>
<text x="394.0" y="210" text-anchor="middle" style="font-family:'Liberation Sans',Arial,sans-serif;font-weight:bold;font-size:10px;stroke-width:0">+</text>
<text x="693.1" y="210" text-anchor="middle" style="font-family:'Liberation Sans',Arial,sans-serif;font-weight:bold;font-size:10px;stroke-width:0">+</text>
<rect x="59.85" y="95.7" width="780.75" height="405.90" fill="none" stroke="#222" stroke-width="1.5"/>
<line x1="54.1" y1="472.60" x2="59.85" y2="472.60" stroke="#222" stroke-width="1.6"/>
<text x="50" y="478.0" text-anchor="end" font-size="14">0</text>
<line x1="54.1" y1="399.97" x2="59.85" y2="399.97" stroke="#222" stroke-width="1.6"/>
<text x="50" y="405.4" text-anchor="end" font-size="14">10</text>
<line x1="54.1" y1="327.34" x2="59.85" y2="327.34" stroke="#222" stroke-width="1.6"/>
<text x="50" y="332.7" text-anchor="end" font-size="14">20</text>
<line x1="54.1" y1="254.71" x2="59.85" y2="254.71" stroke="#222" stroke-width="1.6"/>
<text x="50" y="260.1" text-anchor="end" font-size="14">30</text>
<line x1="54.1" y1="182.08" x2="59.85" y2="182.08" stroke="#222" stroke-width="1.6"/>
<text x="50" y="187.5" text-anchor="end" font-size="14">40</text>
<line x1="54.1" y1="109.45" x2="59.85" y2="109.45" stroke="#222" stroke-width="1.6"/>
<text x="50" y="114.9" text-anchor="end" font-size="14">50</text>
<line x1="95.00" y1="501.6" x2="95.00" y2="507.2" stroke="#222" stroke-width="1.6"/>
<text x="95.00" y="521.5" text-anchor="middle" font-size="14">0</text>
<line x1="169.76" y1="501.6" x2="169.76" y2="507.2" stroke="#222" stroke-width="1.6"/>
<text x="169.76" y="521.5" text-anchor="middle" font-size="14">1</text>
<line x1="244.52" y1="501.6" x2="244.52" y2="507.2" stroke="#222" stroke-width="1.6"/>
<text x="244.52" y="521.5" text-anchor="middle" font-size="14">2</text>
<line x1="319.28" y1="501.6" x2="319.28" y2="507.2" stroke="#222" stroke-width="1.6"/>
<text x="319.28" y="521.5" text-anchor="middle" font-size="14">3</text>
<line x1="394.04" y1="501.6" x2="394.04" y2="507.2" stroke="#222" stroke-width="1.6"/>
<text x="394.04" y="521.5" text-anchor="middle" font-size="14">4</text>
<line x1="468.80" y1="501.6" x2="468.80" y2="507.2" stroke="#222" stroke-width="1.6"/>
<text x="468.80" y="521.5" text-anchor="middle" font-size="14">5</text>
<line x1="543.56" y1="501.6" x2="543.56" y2="507.2" stroke="#222" stroke-width="1.6"/>
<text x="543.56" y="521.5" text-anchor="middle" font-size="14">6</text>
<line x1="618.32" y1="501.6" x2="618.32" y2="507.2" stroke="#222" stroke-width="1.6"/>
<text x="618.32" y="521.5" text-anchor="middle" font-size="14">7</text>
<line x1="693.08" y1="501.6" x2="693.08" y2="507.2" stroke="#222" stroke-width="1.6"/>
<text x="693.08" y="521.5" text-anchor="middle" font-size="14">8</text>
<line x1="767.84" y1="501.6" x2="767.84" y2="507.2" stroke="#222" stroke-width="1.6"/>
<text x="767.84" y="521.5" text-anchor="middle" font-size="14">9</text>
<text x="449.7" y="553.4" text-anchor="middle" font-size="15.6">Dive Time (Hour)</text>
<text transform="translate(18.5,298.7) rotate(-90)" x="0" y="0" text-anchor="middle" font-size="15.6">Temperature (°C)</text>
<g clip-path="url(#cb)">
<g><path d="M1021.0,159.6 L1077.5,228.0 L1100.6,254.3 L1117.4,286.2 L1154.8,314.9 L1212.2,339.8 L1249.6,333.6 L1300.0,342.3 L1346.0,346.0 L1385.4,342.6 L1422.5,354.2 L1460.0,335.6 L1499.8,337.5 L1539.2,354.6 L1577.5,341.4 L1654.0,351.9" fill="none" stroke="#d4d4d4" stroke-width="0.9"/><path d="M1021.0,174.6 L1078.0,199.0 L1115.0,215.2 L1192.5,234.5 L1212.7,225.2 L1253.0,230.0 L1290.4,238.4 L1346.0,233.0 L1366.9,243.7 L1423.6,232.6 L1443.0,300.0 L1462.7,299.0 L1499.8,303.2 L1539.2,334.5" fill="none" stroke="#d4d4d4" stroke-width="0.9"/><path d="M1021.0,193.0 L1078.0,222.0 L1115.5,240.9 L1156.2,265.5 L1200.0,256.9 L1231.3,250.0 L1251.4,219.1 L1270.7,252.3 L1308.9,263.4 L1346.0,262.2 L1404.0,273.1 L1442.2,265.0 L1481.3,264.6 L1519.5,242.3 L1557.8,235.4 L1635.4,235.4" fill="none" stroke="#d4d4d4" stroke-width="0.9"/><path d="M1021.0,188.5 L1060.0,235.0 L1079.2,260.2 L1107.0,266.6 L1136.9,217.4 L1164.8,240.0 L1214.7,267.4 L1234.7,284.9 L1300.0,339.8 L1346.0,371.5 L1442.2,366.2 L1462.7,334.5 L1538.0,342.6 L1579.8,361.1 L1654.0,382.0" fill="none" stroke="#d4d4d4" stroke-width="0.9"/><path d="M1021.0,200.0 L1060.0,222.0 L1100.0,262.0 L1120.0,277.4 L1194.7,297.4 L1269.6,348.5" fill="none" stroke="#d4d4d4" stroke-width="0.9"/><path d="M1021.0,206.0 L1070.0,240.0 L1102.4,262.0 L1150.0,290.0 L1204.7,305.0 L1300.0,357.3 L1350.0,362.0 L1424.8,354.2 L1450.0,295.2 L1482.5,252.3 L1519.5,239.5 L1576.3,237.2 L1596.0,246.0 L1635.4,250.2 L1673.7,270.4 L1730.5,255.8" fill="none" stroke="#d4d4d4" stroke-width="0.9"/><path d="M1021.0,211.0 L1065.0,238.0 L1100.0,268.0 L1160.0,300.0 L1200.0,302.0 L1270.0,330.0 L1330.0,355.0 L1380.0,360.0 L1450.0,347.2 L1482.5,348.4 L1557.8,365.3 L1635.4,362.3 L1730.5,366.2" fill="none" stroke="#d4d4d4" stroke-width="0.9"/><path d="M1021.0,203.0 L1060.0,232.0 L1110.0,262.0 L1160.0,292.0 L1216.2,267.3 L1251.0,262.7 L1308.9,271.3 L1346.0,267.3 L1366.9,259.2 L1460.0,297.5" fill="none" stroke="#d4d4d4" stroke-width="0.9"/><path d="M1200.0,275.4 L1231.0,286.0 L1269.5,289.3 L1308.9,280.1 L1346.0,282.9 L1385.4,293.5 L1450.0,277.8 L1466.2,274.8 L1499.8,274.3 L1539.2,283.6 L1576.3,287.1 L1615.7,276.6 L1654.0,277.8 L1672.5,292.4" fill="none" stroke="#d4d4d4" stroke-width="0.9"/><path d="M1021.0,197.0 L1080.0,252.0 L1130.0,270.0 L1190.0,300.0 L1250.0,320.0 L1300.0,330.0 L1350.0,352.0 L1400.0,350.0 L1450.0,355.3 L1482.5,348.4 L1499.8,337.5" fill="none" stroke="#d4d4d4" stroke-width="0.9"/><path d="M1200.0,333.3 L1212.7,339.8 L1269.5,332.1 L1310.0,318.0" fill="none" stroke="#d4d4d4" stroke-width="0.9"/><path d="M1462.7,298.5 L1499.8,294.4" fill="none" stroke="#d4d4d4" stroke-width="0.9"/></g>
<path d="M1021.0,176.1 L1023.5,178.4 L1026.0,180.7 L1028.5,183.0 L1031.0,185.2 L1033.5,187.4 L1036.0,189.6 L1038.5,191.7 L1041.0,193.9 L1043.5,196.0 L1046.0,198.0 L1048.5,200.1 L1051.0,202.1 L1053.5,204.1 L1056.0,206.0 L1058.5,207.9 L1061.0,209.8 L1063.5,211.7 L1066.0,213.5 L1068.5,215.3 L1071.0,217.1 L1073.5,218.9 L1076.0,220.6 L1078.5,222.3 L1081.0,223.9 L1083.5,225.6 L1086.0,227.2 L1088.5,228.7 L1091.0,230.3 L1093.5,231.8 L1096.0,233.3 L1098.5,234.7 L1101.0,236.1 L1103.5,237.5 L1106.0,238.9 L1108.5,240.2 L1111.0,241.5 L1113.5,242.8 L1116.0,244.1 L1118.5,245.3 L1121.0,246.5 L1123.5,247.7 L1126.0,248.9 L1128.5,250.0 L1131.0,251.1 L1133.5,252.2 L1136.0,253.3 L1138.5,254.3 L1141.0,255.4 L1143.5,256.4 L1146.0,257.4 L1148.5,258.4 L1151.0,259.3 L1153.5,260.3 L1156.0,261.2 L1158.5,262.1 L1161.0,263.0 L1163.5,263.9 L1166.0,264.7 L1168.5,265.6 L1171.0,266.4 L1173.5,267.2 L1176.0,268.1 L1178.5,268.9 L1181.0,269.7 L1183.5,270.4 L1186.0,271.2 L1188.5,272.0 L1191.0,272.7 L1193.5,273.5 L1196.0,274.2 L1198.5,275.0 L1201.0,275.7 L1203.5,276.4 L1206.0,277.1 L1208.5,277.9 L1211.0,278.6 L1213.5,279.3 L1216.0,279.9 L1218.5,280.6 L1221.0,281.3 L1223.5,282.0 L1226.0,282.6 L1228.5,283.3 L1231.0,284.0 L1233.5,284.6 L1236.0,285.2 L1238.5,285.9 L1241.0,286.5 L1243.5,287.1 L1246.0,287.7 L1248.5,288.3 L1251.0,288.9 L1253.5,289.5 L1256.0,290.1 L1258.5,290.6 L1261.0,291.2 L1263.5,291.7 L1266.0,292.3 L1268.5,292.8 L1271.0,293.4 L1273.5,293.9 L1276.0,294.4 L1278.5,294.9 L1281.0,295.4 L1283.5,295.9 L1286.0,296.3 L1288.5,296.8 L1291.0,297.3 L1293.5,297.7 L1296.0,298.1 L1298.5,298.6 L1301.0,299.0 L1303.5,299.4 L1306.0,299.8 L1308.5,300.2 L1311.0,300.6 L1313.5,300.9 L1316.0,301.3 L1318.5,301.6 L1321.0,302.0 L1323.5,302.3 L1326.0,302.6 L1328.5,302.9 L1331.0,303.2 L1333.5,303.5 L1336.0,303.8 L1338.5,304.0 L1341.0,304.3 L1343.5,304.5 L1346.0,304.8 L1348.5,305.0 L1351.0,305.2 L1353.5,305.4 L1356.0,305.6 L1358.5,305.8 L1361.0,305.9 L1363.5,306.1 L1366.0,306.2 L1368.5,306.4 L1371.0,306.5 L1373.5,306.6 L1376.0,306.7 L1378.5,306.8 L1381.0,306.8 L1383.5,306.9 L1386.0,306.9 L1388.5,307.0 L1391.0,307.0 L1393.5,307.0 L1396.0,307.0 L1398.5,307.0 L1401.0,307.0 L1403.5,307.0 L1406.0,306.9 L1408.5,306.9 L1411.0,306.8 L1413.5,306.7 L1416.0,306.6 L1418.5,306.6 L1421.0,306.5 L1423.5,306.4 L1426.0,306.3 L1428.5,306.1 L1431.0,306.0 L1433.5,305.9 L1436.0,305.8 L1438.5,305.6 L1441.0,305.5 L1443.5,305.4 L1446.0,305.2 L1448.5,305.1 L1451.0,304.9 L1453.5,304.8 L1456.0,304.6 L1458.5,304.5 L1461.0,304.3 L1463.5,304.2 L1466.0,304.0 L1468.5,303.9 L1471.0,303.7 L1473.5,303.6 L1476.0,303.5 L1478.5,303.3 L1481.0,303.2 L1483.5,303.0 L1486.0,302.9 L1488.5,302.8 L1491.0,302.6 L1493.5,302.5 L1496.0,302.3 L1498.5,302.2 L1501.0,302.1 L1503.5,302.0 L1506.0,301.8 L1508.5,301.7 L1511.0,301.6 L1513.5,301.4 L1516.0,301.3 L1518.5,301.2 L1521.0,301.0 L1523.5,300.9 L1526.0,300.8 L1528.5,300.6 L1531.0,300.5 L1533.5,300.4 L1536.0,300.2 L1538.5,300.1 L1541.0,300.0 L1543.5,299.8 L1546.0,299.7 L1548.5,299.5 L1551.0,299.4 L1553.5,299.2 L1556.0,299.1 L1558.5,298.9 L1561.0,298.8 L1563.5,298.6 L1566.0,298.4 L1568.5,298.3 L1571.0,298.1 L1573.5,297.9 L1576.0,297.7 L1578.5,297.6 L1581.0,297.4 L1583.5,297.2 L1586.0,297.0 L1588.5,296.8 L1591.0,296.6 L1593.5,296.4 L1596.0,296.2 L1598.5,296.0 L1601.0,295.7 L1603.5,295.5 L1606.0,295.3 L1608.5,295.0 L1611.0,294.8 L1613.5,294.5 L1616.0,294.3 L1618.5,294.0 L1621.0,293.7 L1623.5,293.5 L1626.0,293.2 L1628.5,292.9 L1631.0,292.6 L1633.5,292.3 L1636.0,292.0 L1638.5,291.7 L1641.0,291.3 L1643.5,291.0 L1646.0,290.7 L1648.5,290.3 L1651.0,290.0 L1653.5,289.6 L1656.0,289.2 L1658.5,288.8 L1661.0,288.4 L1663.5,288.0 L1666.0,287.6 L1668.5,287.2 L1671.0,286.8 L1673.5,286.4 L1676.0,285.9 L1678.5,285.4 L1681.0,285.0 L1683.5,284.5 L1686.0,284.0 L1688.5,283.5 L1691.0,283.0 L1693.5,282.5 L1696.0,282.0 L1698.5,281.4 L1701.0,280.9 L1703.5,280.3 L1706.0,279.7 L1708.5,279.1 L1711.0,278.5 L1713.5,277.9 L1716.0,277.3 L1718.5,276.7 L1721.0,276.0 L1723.5,275.4 L1726.0,274.7 L1728.5,274.0 L1730.8,273.4 L1730.8,342.4 L1728.5,341.7 L1726.0,341.0 L1723.5,340.3 L1721.0,339.6 L1718.5,338.9 L1716.0,338.2 L1713.5,337.6 L1711.0,336.9 L1708.5,336.3 L1706.0,335.7 L1703.5,335.1 L1701.0,334.5 L1698.5,333.9 L1696.0,333.4 L1693.5,332.8 L1691.0,332.3 L1688.5,331.8 L1686.0,331.3 L1683.5,330.8 L1681.0,330.3 L1678.5,329.8 L1676.0,329.4 L1673.5,328.9 L1671.0,328.5 L1668.5,328.1 L1666.0,327.7 L1663.5,327.3 L1661.0,326.9 L1658.5,326.5 L1656.0,326.2 L1653.5,325.8 L1651.0,325.5 L1648.5,325.2 L1646.0,324.9 L1643.5,324.6 L1641.0,324.3 L1638.5,324.0 L1636.0,323.7 L1633.5,323.5 L1631.0,323.2 L1628.5,323.0 L1626.0,322.8 L1623.5,322.6 L1621.0,322.4 L1618.5,322.2 L1616.0,322.0 L1613.5,321.8 L1611.0,321.7 L1608.5,321.5 L1606.0,321.4 L1603.5,321.2 L1601.0,321.1 L1598.5,321.0 L1596.0,320.9 L1593.5,320.8 L1591.0,320.7 L1588.5,320.6 L1586.0,320.6 L1583.5,320.5 L1581.0,320.4 L1578.5,320.4 L1576.0,320.4 L1573.5,320.3 L1571.0,320.3 L1568.5,320.3 L1566.0,320.3 L1563.5,320.3 L1561.0,320.3 L1558.5,320.4 L1556.0,320.4 L1553.5,320.4 L1551.0,320.5 L1548.5,320.5 L1546.0,320.6 L1543.5,320.6 L1541.0,320.7 L1538.5,320.8 L1536.0,320.9 L1533.5,321.0 L1531.0,321.1 L1528.5,321.2 L1526.0,321.3 L1523.5,321.4 L1521.0,321.5 L1518.5,321.7 L1516.0,321.8 L1513.5,321.9 L1511.0,322.1 L1508.5,322.2 L1506.0,322.4 L1503.5,322.6 L1501.0,322.7 L1498.5,322.9 L1496.0,323.1 L1493.5,323.3 L1491.0,323.5 L1488.5,323.7 L1486.0,323.9 L1483.5,324.1 L1481.0,324.3 L1478.5,324.5 L1476.0,324.7 L1473.5,324.9 L1471.0,325.1 L1468.5,325.4 L1466.0,325.6 L1463.5,325.8 L1461.0,326.1 L1458.5,326.3 L1456.0,326.5 L1453.5,326.7 L1451.0,327.0 L1448.5,327.2 L1446.0,327.4 L1443.5,327.6 L1441.0,327.9 L1438.5,328.1 L1436.0,328.3 L1433.5,328.5 L1431.0,328.7 L1428.5,328.9 L1426.0,329.0 L1423.5,329.2 L1421.0,329.4 L1418.5,329.5 L1416.0,329.7 L1413.5,329.8 L1411.0,329.9 L1408.5,330.0 L1406.0,330.2 L1403.5,330.2 L1401.0,330.3 L1398.5,330.4 L1396.0,330.5 L1393.5,330.5 L1391.0,330.5 L1388.5,330.5 L1386.0,330.5 L1383.5,330.5 L1381.0,330.5 L1378.5,330.5 L1376.0,330.4 L1373.5,330.3 L1371.0,330.3 L1368.5,330.2 L1366.0,330.1 L1363.5,329.9 L1361.0,329.8 L1358.5,329.7 L1356.0,329.5 L1353.5,329.3 L1351.0,329.1 L1348.5,329.0 L1346.0,328.7 L1343.5,328.5 L1341.0,328.3 L1338.5,328.0 L1336.0,327.8 L1333.5,327.5 L1331.0,327.2 L1328.5,326.9 L1326.0,326.6 L1323.5,326.3 L1321.0,325.9 L1318.5,325.6 L1316.0,325.2 L1313.5,324.8 L1311.0,324.4 L1308.5,324.0 L1306.0,323.6 L1303.5,323.2 L1301.0,322.8 L1298.5,322.3 L1296.0,321.9 L1293.5,321.4 L1291.0,320.9 L1288.5,320.4 L1286.0,319.9 L1283.5,319.4 L1281.0,318.9 L1278.5,318.3 L1276.0,317.8 L1273.5,317.2 L1271.0,316.7 L1268.5,316.1 L1266.0,315.5 L1263.5,314.9 L1261.0,314.3 L1258.5,313.7 L1256.0,313.0 L1253.5,312.4 L1251.0,311.7 L1248.5,311.1 L1246.0,310.4 L1243.5,309.7 L1241.0,309.0 L1238.5,308.3 L1236.0,307.6 L1233.5,306.9 L1231.0,306.2 L1228.5,305.4 L1226.0,304.7 L1223.5,303.9 L1221.0,303.2 L1218.5,302.4 L1216.0,301.6 L1213.5,300.8 L1211.0,300.0 L1208.5,299.2 L1206.0,298.4 L1203.5,297.5 L1201.0,296.7 L1198.5,295.9 L1196.0,295.0 L1193.5,294.2 L1191.0,293.3 L1188.5,292.4 L1186.0,291.5 L1183.5,290.6 L1181.0,289.7 L1178.5,288.8 L1176.0,287.9 L1173.5,287.0 L1171.0,286.1 L1168.5,285.1 L1166.0,284.2 L1163.5,283.3 L1161.0,282.3 L1158.5,281.3 L1156.0,280.4 L1153.5,279.4 L1151.0,278.4 L1148.5,277.4 L1146.0,276.4 L1143.5,275.4 L1141.0,274.4 L1138.5,273.4 L1136.0,272.3 L1133.5,271.3 L1131.0,270.3 L1128.5,269.2 L1126.0,268.2 L1123.5,267.1 L1121.0,266.0 L1118.5,265.0 L1116.0,263.9 L1113.5,262.8 L1111.0,261.7 L1108.5,260.6 L1106.0,259.5 L1103.5,258.4 L1101.0,257.3 L1098.5,256.2 L1096.0,255.0 L1093.5,253.9 L1091.0,252.8 L1088.5,251.6 L1086.0,250.5 L1083.5,249.3 L1081.0,248.1 L1078.5,247.0 L1076.0,245.8 L1073.5,244.7 L1071.0,243.5 L1068.5,242.3 L1066.0,241.2 L1063.5,240.0 L1061.0,238.9 L1058.5,237.7 L1056.0,236.6 L1053.5,235.4 L1051.0,234.3 L1048.5,233.2 L1046.0,232.0 L1043.5,230.9 L1041.0,229.8 L1038.5,228.7 L1036.0,227.6 L1033.5,226.5 L1031.0,225.5 L1028.5,224.4 L1026.0,223.4 L1023.5,222.3 L1021.0,221.3 Z" fill="#999" fill-opacity="0.4"/>
<path d="M1021.0,198.7 L1023.5,200.4 L1026.0,202.0 L1028.5,203.7 L1031.0,205.3 L1033.5,207.0 L1036.0,208.6 L1038.5,210.2 L1041.0,211.8 L1043.5,213.4 L1046.0,215.0 L1048.5,216.6 L1051.0,218.2 L1053.5,219.7 L1056.0,221.3 L1058.5,222.8 L1061.0,224.3 L1063.5,225.9 L1066.0,227.4 L1068.5,228.8 L1071.0,230.3 L1073.5,231.8 L1076.0,233.2 L1078.5,234.6 L1081.0,236.0 L1083.5,237.4 L1086.0,238.8 L1088.5,240.2 L1091.0,241.5 L1093.5,242.8 L1096.0,244.1 L1098.5,245.4 L1101.0,246.7 L1103.5,248.0 L1106.0,249.2 L1108.5,250.4 L1111.0,251.6 L1113.5,252.8 L1116.0,254.0 L1118.5,255.1 L1121.0,256.3 L1123.5,257.4 L1126.0,258.5 L1128.5,259.6 L1131.0,260.7 L1133.5,261.8 L1136.0,262.8 L1138.5,263.9 L1141.0,264.9 L1143.5,265.9 L1146.0,266.9 L1148.5,267.9 L1151.0,268.9 L1153.5,269.8 L1156.0,270.8 L1158.5,271.7 L1161.0,272.6 L1163.5,273.6 L1166.0,274.5 L1168.5,275.4 L1171.0,276.3 L1173.5,277.1 L1176.0,278.0 L1178.5,278.9 L1181.0,279.7 L1183.5,280.5 L1186.0,281.4 L1188.5,282.2 L1191.0,283.0 L1193.5,283.8 L1196.0,284.6 L1198.5,285.4 L1201.0,286.2 L1203.5,287.0 L1206.0,287.8 L1208.5,288.5 L1211.0,289.3 L1213.5,290.0 L1216.0,290.8 L1218.5,291.5 L1221.0,292.2 L1223.5,293.0 L1226.0,293.7 L1228.5,294.4 L1231.0,295.1 L1233.5,295.8 L1236.0,296.4 L1238.5,297.1 L1241.0,297.8 L1243.5,298.4 L1246.0,299.1 L1248.5,299.7 L1251.0,300.3 L1253.5,300.9 L1256.0,301.5 L1258.5,302.1 L1261.0,302.7 L1263.5,303.3 L1266.0,303.9 L1268.5,304.5 L1271.0,305.0 L1273.5,305.6 L1276.0,306.1 L1278.5,306.6 L1281.0,307.1 L1283.5,307.6 L1286.0,308.1 L1288.5,308.6 L1291.0,309.1 L1293.5,309.5 L1296.0,310.0 L1298.5,310.4 L1301.0,310.9 L1303.5,311.3 L1306.0,311.7 L1308.5,312.1 L1311.0,312.5 L1313.5,312.9 L1316.0,313.2 L1318.5,313.6 L1321.0,313.9 L1323.5,314.3 L1326.0,314.6 L1328.5,314.9 L1331.0,315.2 L1333.5,315.5 L1336.0,315.8 L1338.5,316.0 L1341.0,316.3 L1343.5,316.5 L1346.0,316.8 L1348.5,317.0 L1351.0,317.2 L1353.5,317.4 L1356.0,317.5 L1358.5,317.7 L1361.0,317.9 L1363.5,318.0 L1366.0,318.1 L1368.5,318.3 L1371.0,318.4 L1373.5,318.5 L1376.0,318.5 L1378.5,318.6 L1381.0,318.7 L1383.5,318.7 L1386.0,318.7 L1388.5,318.8 L1391.0,318.8 L1393.5,318.8 L1396.0,318.7 L1398.5,318.7 L1401.0,318.7 L1403.5,318.6 L1406.0,318.5 L1408.5,318.5 L1411.0,318.4 L1413.5,318.3 L1416.0,318.2 L1418.5,318.0 L1421.0,317.9 L1423.5,317.8 L1426.0,317.6 L1428.5,317.5 L1431.0,317.3 L1433.5,317.2 L1436.0,317.0 L1438.5,316.9 L1441.0,316.7 L1443.5,316.5 L1446.0,316.3 L1448.5,316.1 L1451.0,316.0 L1453.5,315.8 L1456.0,315.6 L1458.5,315.4 L1461.0,315.2 L1463.5,315.0 L1466.0,314.8 L1468.5,314.6 L1471.0,314.4 L1473.5,314.3 L1476.0,314.1 L1478.5,313.9 L1481.0,313.7 L1483.5,313.5 L1486.0,313.4 L1488.5,313.2 L1491.0,313.0 L1493.5,312.9 L1496.0,312.7 L1498.5,312.6 L1501.0,312.4 L1503.5,312.3 L1506.0,312.1 L1508.5,312.0 L1511.0,311.8 L1513.5,311.7 L1516.0,311.5 L1518.5,311.4 L1521.0,311.3 L1523.5,311.2 L1526.0,311.0 L1528.5,310.9 L1531.0,310.8 L1533.5,310.7 L1536.0,310.6 L1538.5,310.4 L1541.0,310.3 L1543.5,310.2 L1546.0,310.1 L1548.5,310.0 L1551.0,309.9 L1553.5,309.8 L1556.0,309.7 L1558.5,309.6 L1561.0,309.5 L1563.5,309.5 L1566.0,309.4 L1568.5,309.3 L1571.0,309.2 L1573.5,309.1 L1576.0,309.1 L1578.5,309.0 L1581.0,308.9 L1583.5,308.8 L1586.0,308.8 L1588.5,308.7 L1591.0,308.6 L1593.5,308.6 L1596.0,308.5 L1598.5,308.5 L1601.0,308.4 L1603.5,308.4 L1606.0,308.3 L1608.5,308.3 L1611.0,308.2 L1613.5,308.2 L1616.0,308.1 L1618.5,308.1 L1621.0,308.1 L1623.5,308.0 L1626.0,308.0 L1628.5,307.9 L1631.0,307.9 L1633.5,307.9 L1636.0,307.9 L1638.5,307.8 L1641.0,307.8 L1643.5,307.8 L1646.0,307.8 L1648.5,307.7 L1651.0,307.7 L1653.5,307.7 L1656.0,307.7 L1658.5,307.7 L1661.0,307.7 L1663.5,307.7 L1666.0,307.7 L1668.5,307.7 L1671.0,307.6 L1673.5,307.6 L1676.0,307.6 L1678.5,307.6 L1681.0,307.6 L1683.5,307.6 L1686.0,307.6 L1688.5,307.6 L1691.0,307.7 L1693.5,307.7 L1696.0,307.7 L1698.5,307.7 L1701.0,307.7 L1703.5,307.7 L1706.0,307.7 L1708.5,307.7 L1711.0,307.7 L1713.5,307.8 L1716.0,307.8 L1718.5,307.8 L1721.0,307.8 L1723.5,307.8 L1726.0,307.9 L1728.5,307.9 L1730.8,307.9" fill="none" stroke="#000" stroke-width="2.1"/>
<line x1="985.6" y1="380.1" x2="1766.4" y2="380.1" stroke="#d80000" stroke-width="2.2" stroke-dasharray="7.6,7.6"/>
</g>
<text x="1097.6" y="146.9" text-anchor="middle" style="font-family:'Liberation Sans',Arial,sans-serif;font-size:11px;stroke-width:0.1px">**</text>
<text x="1174.3" y="146.9" text-anchor="middle" style="font-family:'Liberation Sans',Arial,sans-serif;font-size:11px;stroke-width:0.1px">****</text>
<text x="1251.1" y="146.9" text-anchor="middle" style="font-family:'Liberation Sans',Arial,sans-serif;font-size:11px;stroke-width:0.1px">****</text>
<text x="1327.8" y="146.9" text-anchor="middle" style="font-family:'Liberation Sans',Arial,sans-serif;font-size:11px;stroke-width:0.1px">****</text>
<text x="1404.6" y="146.9" text-anchor="middle" style="font-family:'Liberation Sans',Arial,sans-serif;font-size:11px;stroke-width:0.1px">****</text>
<text x="1481.4" y="146.9" text-anchor="middle" style="font-family:'Liberation Sans',Arial,sans-serif;font-size:11px;stroke-width:0.1px">****</text>
<text x="1558.1" y="146.9" text-anchor="middle" style="font-family:'Liberation Sans',Arial,sans-serif;font-size:11px;stroke-width:0.1px">****</text>
<text x="1634.9" y="146.9" text-anchor="middle" style="font-family:'Liberation Sans',Arial,sans-serif;font-size:11px;stroke-width:0.1px">****</text>
<text x="1711.6" y="146.9" text-anchor="middle" style="font-family:'Liberation Sans',Arial,sans-serif;font-size:11px;stroke-width:0.1px">***</text>
<rect x="985.6" y="23.9" width="780.80" height="477.50" fill="none" stroke="#222" stroke-width="1.5"/>
<line x1="980" y1="464.80" x2="985.6" y2="464.80" stroke="#222" stroke-width="1.6"/>
<text x="975.6" y="470.1" text-anchor="end" font-size="14">0</text>
<line x1="980" y1="380.14" x2="985.6" y2="380.14" stroke="#222" stroke-width="1.6"/>
<text x="975.6" y="385.4" text-anchor="end" font-size="14">10</text>
<line x1="980" y1="295.48" x2="985.6" y2="295.48" stroke="#222" stroke-width="1.6"/>
<text x="975.6" y="300.8" text-anchor="end" font-size="14">20</text>
<line x1="980" y1="210.82" x2="985.6" y2="210.82" stroke="#222" stroke-width="1.6"/>
<text x="975.6" y="216.1" text-anchor="end" font-size="14">30</text>
<line x1="980" y1="126.16" x2="985.6" y2="126.16" stroke="#222" stroke-width="1.6"/>
<text x="975.6" y="131.5" text-anchor="end" font-size="14">40</text>
<line x1="980" y1="41.50" x2="985.6" y2="41.50" stroke="#222" stroke-width="1.6"/>
<text x="975.6" y="46.8" text-anchor="end" font-size="14">50</text>
<line x1="1020.80" y1="501.4" x2="1020.80" y2="507.0" stroke="#222" stroke-width="1.6"/>
<text x="1020.80" y="521.5" text-anchor="middle" font-size="14">0</text>
<line x1="1097.56" y1="501.4" x2="1097.56" y2="507.0" stroke="#222" stroke-width="1.6"/>
<text x="1097.56" y="521.5" text-anchor="middle" font-size="14">1</text>
<line x1="1174.32" y1="501.4" x2="1174.32" y2="507.0" stroke="#222" stroke-width="1.6"/>
<text x="1174.32" y="521.5" text-anchor="middle" font-size="14">2</text>
<line x1="1251.08" y1="501.4" x2="1251.08" y2="507.0" stroke="#222" stroke-width="1.6"/>
<text x="1251.08" y="521.5" text-anchor="middle" font-size="14">3</text>
<line x1="1327.84" y1="501.4" x2="1327.84" y2="507.0" stroke="#222" stroke-width="1.6"/>
<text x="1327.84" y="521.5" text-anchor="middle" font-size="14">4</text>
<line x1="1404.60" y1="501.4" x2="1404.60" y2="507.0" stroke="#222" stroke-width="1.6"/>
<text x="1404.60" y="521.5" text-anchor="middle" font-size="14">5</text>
<line x1="1481.36" y1="501.4" x2="1481.36" y2="507.0" stroke="#222" stroke-width="1.6"/>
<text x="1481.36" y="521.5" text-anchor="middle" font-size="14">6</text>
<line x1="1558.12" y1="501.4" x2="1558.12" y2="507.0" stroke="#222" stroke-width="1.6"/>
<text x="1558.12" y="521.5" text-anchor="middle" font-size="14">7</text>
<line x1="1634.88" y1="501.4" x2="1634.88" y2="507.0" stroke="#222" stroke-width="1.6"/>
<text x="1634.88" y="521.5" text-anchor="middle" font-size="14">8</text>
<line x1="1711.64" y1="501.4" x2="1711.64" y2="507.0" stroke="#222" stroke-width="1.6"/>
<text x="1711.64" y="521.5" text-anchor="middle" font-size="14">9</text>
<text x="1375.5" y="553.4" text-anchor="middle" font-size="15.6">Dive Time (Hour)</text>
<text transform="translate(942.6,262.6) rotate(-90)" x="0" y="0" text-anchor="middle" font-size="15.6">Temperature (°C)</text>
</svg></body></html>
